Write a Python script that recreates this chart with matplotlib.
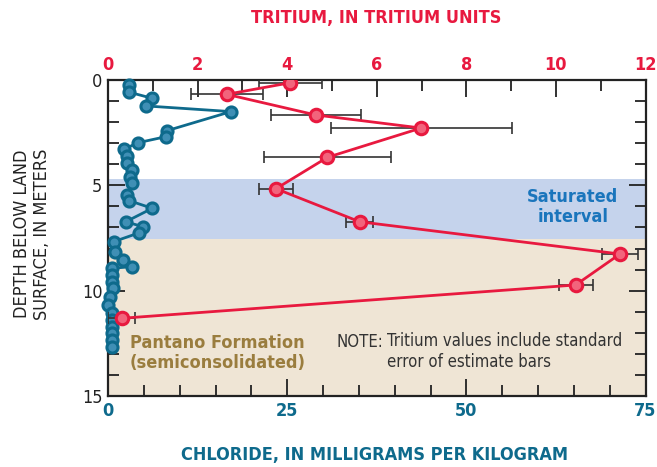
import matplotlib.pyplot as plt
from matplotlib.ticker import MultipleLocator

plt.rcParams['font.family'] = ['DejaVu Sans']
plt.rcParams['font.stretch'] = 'condensed'

RED = '#e8193f'
TEAL = '#0e6a8c'

# Tritium, with standard error of estimate
tritium = [4.07, 2.65, 4.64, 6.99, 4.90, 3.75, 5.62, 11.43, 10.44, 0.31]
tritium_err = [0.70, 0.80, 1.00, 2.02, 1.41, 0.38, 0.30, 0.41, 0.38, 0.30]
tritium_depth = [0.13, 0.68, 1.66, 2.28, 3.67, 5.16, 6.73, 8.26, 9.73, 11.31]

# Chloride profile
chloride = [2.97, 2.97, 6.18, 5.26, 17.16, 8.19, 8.09, 4.14, 2.23, 2.61,
            2.69, 3.31, 3.07, 3.31, 2.69, 2.97, 6.18, 2.47, 4.84, 4.37,
            0.84, 0.98, 2.13, 3.31, 0.52, 0.52, 0.52, 0.74, 0.30, 0.0,
            0.52, 0.52, 0.52, 0.52, 0.52, 0.52]
chloride_depth = [0.24, 0.58, 0.87, 1.23, 1.50, 2.41, 2.69, 2.98, 3.29, 3.61,
                  3.95, 4.27, 4.59, 4.87, 5.46, 5.73, 6.09, 6.73, 6.96, 7.25,
                  7.67, 8.15, 8.54, 8.86, 8.94, 9.25, 9.57, 9.89, 10.28, 10.68,
                  11.07, 11.39, 11.71, 12.02, 12.34, 12.66]

saturated = (4.70, 7.55)

fig = plt.figure(figsize=(6.57, 4.67), dpi=100)
ax = fig.add_axes([108 / 657, 1 - 396 / 467, 537.5 / 657, 316 / 467])
ax.set_xlim(0, 75)
ax.set_ylim(15, 0)

ax.axhspan(saturated[0], saturated[1], color='#c5d3ec', lw=0, zorder=0)
ax.axhspan(saturated[1], 15, color='#efe5d5', lw=0, zorder=0)

ax.plot(chloride, chloride_depth, '-o', color=TEAL, lw=2, ms=8,
        mfc='#3f8fb5', mec=TEAL, mew=2.2, clip_on=False, zorder=3)

ax.xaxis.set_major_locator(MultipleLocator(25))
ax.xaxis.set_minor_locator(MultipleLocator(5))
ax.yaxis.set_major_locator(MultipleLocator(5))
ax.yaxis.set_minor_locator(MultipleLocator(1))
ax.tick_params(which='both', direction='in', right=True, width=1.3, color='#222222')
ax.tick_params(which='major', length=12)
ax.tick_params(which='minor', length=8)
ax.tick_params(axis='x', labelsize=13, labelcolor=TEAL, pad=4)
ax.tick_params(axis='y', labelsize=13, labelcolor='#222222', pad=4)
for lbl in ax.get_xticklabels():
    lbl.set_fontweight('bold')
for s in ax.spines.values():
    s.set_linewidth(1.6)
    s.set_color('#222222')

ax2 = ax.twiny()
ax2.set_xlim(0, 12)
ax2.errorbar(tritium, tritium_depth, xerr=tritium_err, fmt='none',
             ecolor='#333333', elinewidth=1.2, capsize=4, capthick=1.2, zorder=2)
ax2.plot(tritium, tritium_depth, '-o', color=RED, lw=2, ms=9,
         mfc='#f2647c', mec=RED, mew=2.2, zorder=4)
ax2.xaxis.set_major_locator(MultipleLocator(2))
ax2.xaxis.set_minor_locator(MultipleLocator(1))
ax2.tick_params(which='both', direction='in', width=1.3, color='#222222')
ax2.tick_params(which='major', length=12)
ax2.tick_params(which='minor', length=8)
ax2.tick_params(axis='x', labelsize=13, labelcolor=RED, pad=4)
for lbl in ax2.get_xticklabels():
    lbl.set_fontweight('bold')
for s in ax2.spines.values():
    s.set_visible(False)

ax.text(0.865, 0.598, 'Saturated\ninterval', transform=ax.transAxes,
        ha='center', va='center', fontsize=13, fontweight='bold',
        color='#1a75bc', linespacing=1.1)
ax.text(3.0, 12.98, 'Pantano Formation\n(semiconsolidated)', ha='left', va='center',
        fontsize=13, fontweight='bold', color='#9a7d3e', linespacing=1.15)
ax.text(31.9, 12.44, 'NOTE:', ha='left', va='center', fontsize=12, color='#333333')
ax.text(38.9, 12.9, 'Tritium values include standard\nerror of estimate bars',
        ha='left', va='center', fontsize=12, color='#333333', linespacing=1.2)

fig.text(376 / 657, 1 - 18 / 467, 'TRITIUM, IN TRITIUM UNITS', ha='center', va='center',
         fontsize=13, fontweight='bold', color=RED)
fig.text(375 / 657, 1 - 455 / 467, 'CHLORIDE, IN MILLIGRAMS PER KILOGRAM', ha='center',
         va='center', fontsize=13, fontweight='bold', color=TEAL)
fig.text(32 / 657, 1 - 234 / 467, 'DEPTH BELOW LAND\nSURFACE, IN METERS', ha='center',
         va='center', rotation=90, fontsize=13, color='#222222', linespacing=1.2)

fig.savefig('out.png', dpi=100)
